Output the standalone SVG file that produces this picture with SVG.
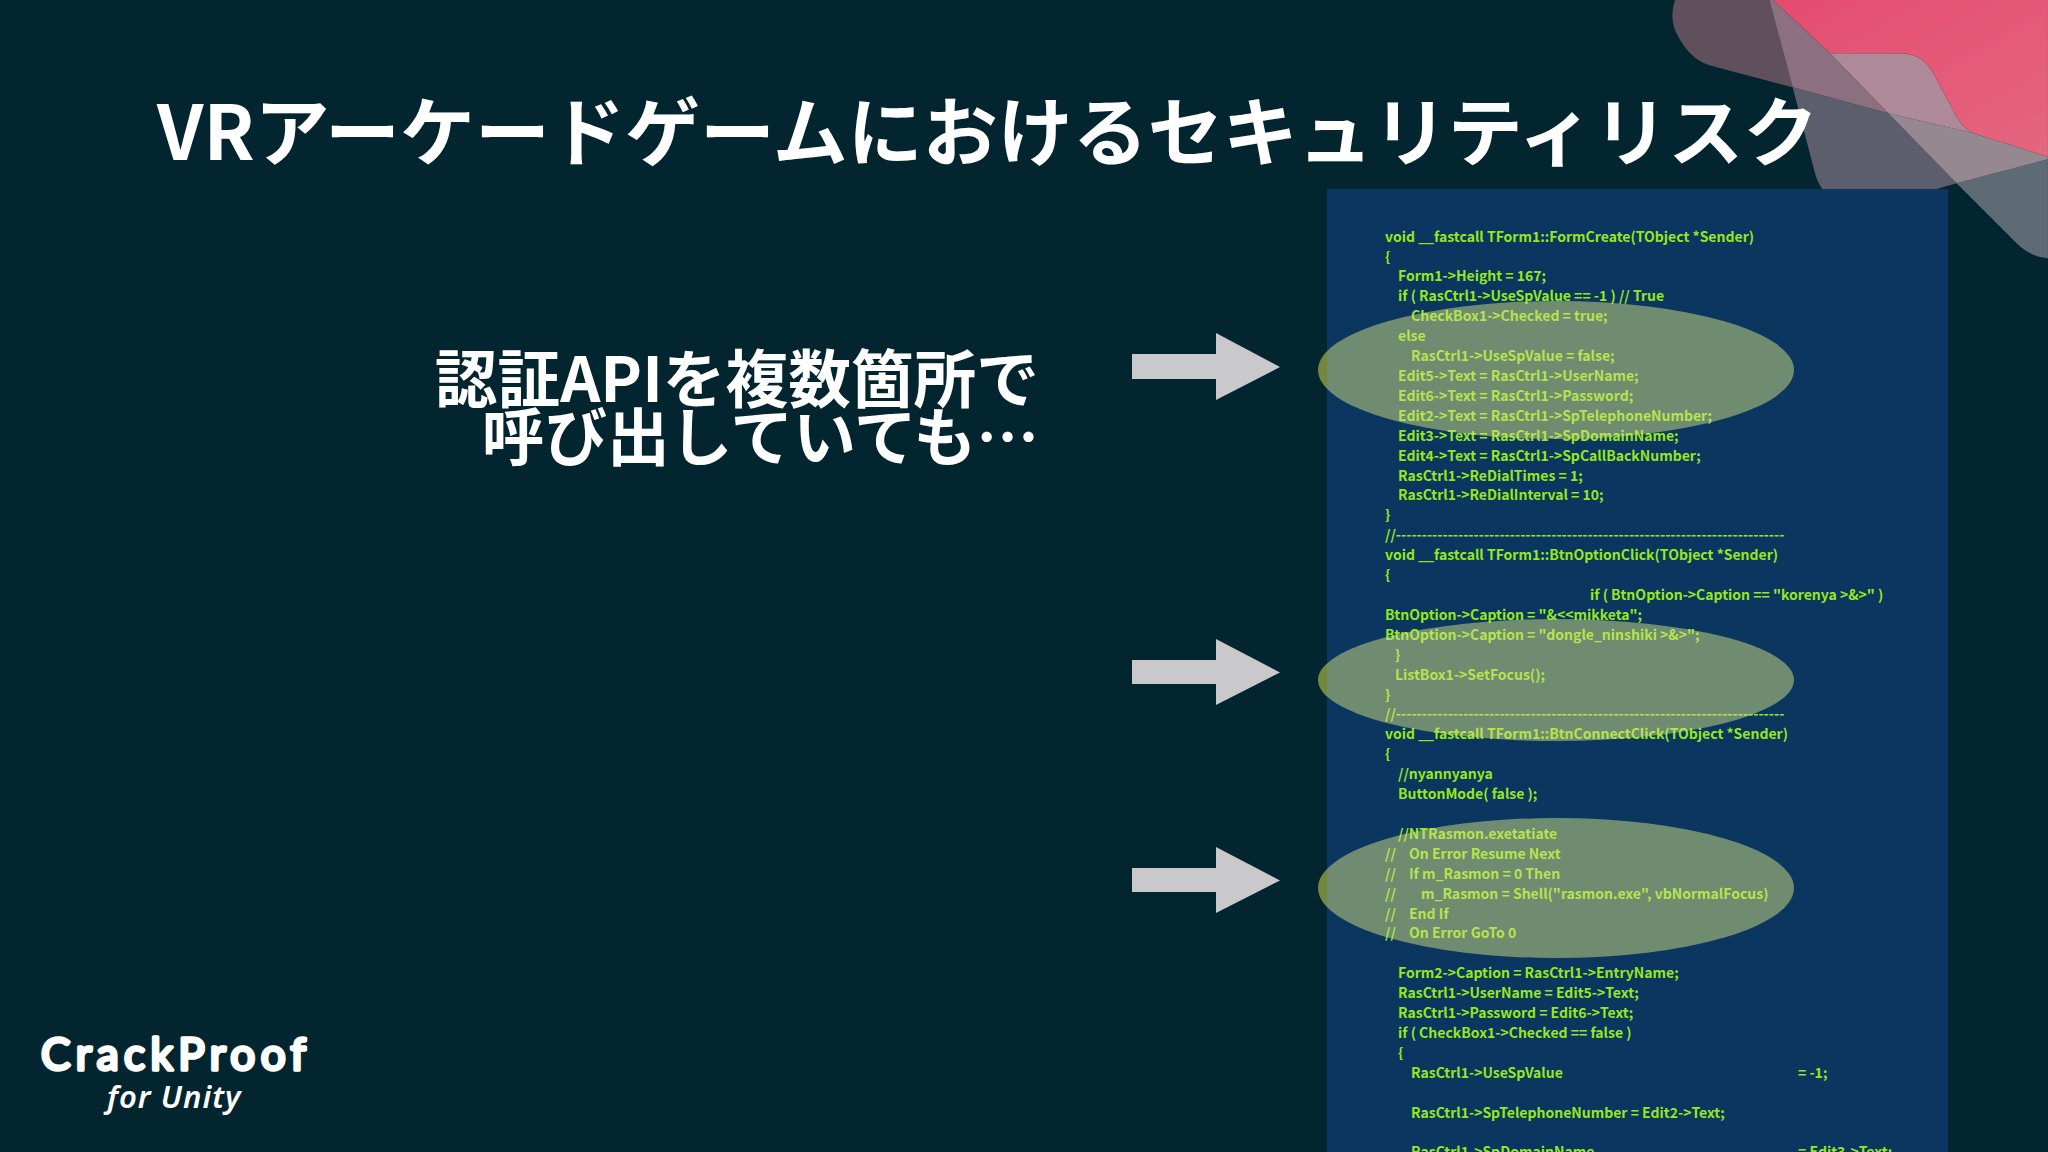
<svg xmlns="http://www.w3.org/2000/svg" width="2048" height="1152" viewBox="0 0 2048 1152">
<style>
.c{font-family:"Noto Sans CJK JP","Noto Sans",sans-serif;font-size:14px;font-weight:700;fill:#94e81c}
.h{font-family:"Noto Sans CJK JP","Noto Sans",sans-serif;font-weight:700;fill:#fff}
.e{fill:#d3e080;fill-opacity:.5}
.s{fill:#74873f}
.a{fill:#c9c9cb}
</style>
<defs><linearGradient id="p" x1="0" y1="0" x2="1" y2="1"><stop offset="0" stop-color="#e54c6f"/><stop offset="1" stop-color="#e4667f"/></linearGradient>
<clipPath id="pc"><rect x="1327" y="189" width="621" height="963"/></clipPath></defs>
<rect width="2048" height="1152" fill="#02252f"/>
<g id="decor" transform="translate(1640 0) scale(.3333)">
<path d="M950 550L1224 478V775Q1170 770 1130 730Z" fill="#5e6b75"/>
<path d="M458 262L520 500Q530 545 547 567L890 567L950 550L745 340Z" fill="#5c5f6b"/>
<path d="M745 340L950 550L1224 478V470L1000 400Z" fill="#968891"/>
<path d="M105 0Q85 60 115 110Q150 175 205 195L458 262L388 0Z" fill="#5f505c"/>
<path d="M388 0L458 262L745 340L570 160L400 0Z" fill="#8d7080"/>
<path d="M570 160L745 340L1000 400Q970 385 950 350L880 220Q850 165 790 160Z" fill="#ae8a99"/>
<path d="M400 0L570 160L790 160Q850 165 880 220L950 350Q970 385 1000 400L1224 470V0Z" fill="url(#p)"/>
</g>
<text id="title" class="h" x="157" y="160" font-size="75">VRアーケードゲームにおけるセキュリティリスク</text>
<g id="lead" class="h" font-size="62.700" text-anchor="end">
<text x="1039" y="402">認証APIを複数箇所で</text>
<text x="1039" y="460">呼び出していても…</text>
</g>
<g id="sliver">
<ellipse class="s" cx="1556" cy="370" rx="238" ry="69"/>
<ellipse class="s" cx="1556" cy="680" rx="238" ry="61"/>
<ellipse class="s" cx="1556" cy="888" rx="238" ry="70"/>
</g>
<rect id="panel" x="1327" y="189" width="621" height="963" fill="#0b3660"/>
<g id="code" class="c" transform="translate(0 -.6)">
<text x="1385" y="243">void __fastcall TForm1::FormCreate(TObject *Sender)</text>
<text x="1385" y="263">{</text>
<text x="1398" y="282">Form1-&gt;Height = 167;</text>
<text x="1398" y="302">if ( RasCtrl1-&gt;UseSpValue == -1 ) // True</text>
<text x="1411" y="322">CheckBox1-&gt;Checked = true;</text>
<text x="1398" y="342">else</text>
<text x="1411" y="362">RasCtrl1-&gt;UseSpValue = false;</text>
<text x="1398" y="382">Edit5-&gt;Text = RasCtrl1-&gt;UserName;</text>
<text x="1398" y="402">Edit6-&gt;Text = RasCtrl1-&gt;Password;</text>
<text x="1398" y="422">Edit2-&gt;Text = RasCtrl1-&gt;SpTelephoneNumber;</text>
<text x="1398" y="442">Edit3-&gt;Text = RasCtrl1-&gt;SpDomainName;</text>
<text x="1398" y="462">Edit4-&gt;Text = RasCtrl1-&gt;SpCallBackNumber;</text>
<text x="1398" y="482">RasCtrl1-&gt;ReDialTimes = 1;</text>
<text x="1398" y="501">RasCtrl1-&gt;ReDialInterval = 10;</text>
<text x="1385" y="521">}</text>
<text x="1385" y="541">//---------------------------------------------------------------------------</text>
<text x="1385" y="561">void __fastcall TForm1::BtnOptionClick(TObject *Sender)</text>
<text x="1385" y="581">{</text>
<text x="1590" y="601">if ( BtnOption-&gt;Caption == "korenya &gt;&amp;&gt;" )</text>
<text x="1385" y="621">BtnOption-&gt;Caption = "&amp;&lt;&lt;mikketa";</text>
<text x="1385" y="641">BtnOption-&gt;Caption = "dongle_ninshiki &gt;&amp;&gt;";</text>
<text x="1395" y="661">}</text>
<text x="1395" y="681">ListBox1-&gt;SetFocus();</text>
<text x="1385" y="701">}</text>
<text x="1385" y="720">//---------------------------------------------------------------------------</text>
<text x="1385" y="740">void __fastcall TForm1::BtnConnectClick(TObject *Sender)</text>
<text x="1385" y="760">{</text>
<text x="1398" y="780">//nyannyanya</text>
<text x="1398" y="800">ButtonMode( false );</text>
<text x="1398" y="840">//NTRasmon.exetatiate</text>
<text x="1385" y="860">//</text><text x="1409" y="860">On Error Resume Next</text>
<text x="1385" y="880">//</text><text x="1409" y="880">If m_Rasmon = 0 Then</text>
<text x="1385" y="900">//</text><text x="1421" y="900">m_Rasmon = Shell("rasmon.exe", vbNormalFocus)</text>
<text x="1385" y="920">//</text><text x="1409" y="920">End If</text>
<text x="1385" y="939">//</text><text x="1409" y="939">On Error GoTo 0</text>
<text x="1398" y="979">Form2-&gt;Caption = RasCtrl1-&gt;EntryName;</text>
<text x="1398" y="999">RasCtrl1-&gt;UserName = Edit5-&gt;Text;</text>
<text x="1398" y="1019">RasCtrl1-&gt;Password = Edit6-&gt;Text;</text>
<text x="1398" y="1039">if ( CheckBox1-&gt;Checked == false )</text>
<text x="1398" y="1059">{</text>
<text x="1411" y="1079">RasCtrl1-&gt;UseSpValue</text><text x="1798" y="1079">= -1;</text>
<text x="1411" y="1119">RasCtrl1-&gt;SpTelephoneNumber = Edit2-&gt;Text;</text>
<text x="1411" y="1158">RasCtrl1-&gt;SpDomainName</text><text x="1798" y="1158">= Edit3-&gt;Text;</text>
</g>
<g id="highlights" clip-path="url(#pc)">
<ellipse class="e" cx="1556" cy="370" rx="238" ry="69"/>
<ellipse class="e" cx="1556" cy="680" rx="238" ry="61"/>
<ellipse class="e" cx="1556" cy="888" rx="238" ry="70"/>
</g>
<g id="arrows">
<path class="a" d="M1132 354H1216V333L1280 367L1216 400V379H1132Z"/>
<path class="a" d="M1132 660H1216V639L1280 672.500L1216 705V684H1132Z"/>
<path class="a" d="M1132 868H1216V847L1280 880.500L1216 913V892H1132Z"/>
</g>
<g id="logo" fill="#fff">
<text x="41" y="1069.500" font-family="Lato,sans-serif" font-size="44" font-weight="400" textLength="265" lengthAdjust="spacing" stroke="#fff" stroke-width="3.500" stroke-linejoin="round">CrackProof</text>
<text x="107" y="1108" font-family="'Noto Sans',sans-serif" font-size="31" font-style="italic" font-weight="600" letter-spacing="1">for Unity</text>
</g>
</svg>
